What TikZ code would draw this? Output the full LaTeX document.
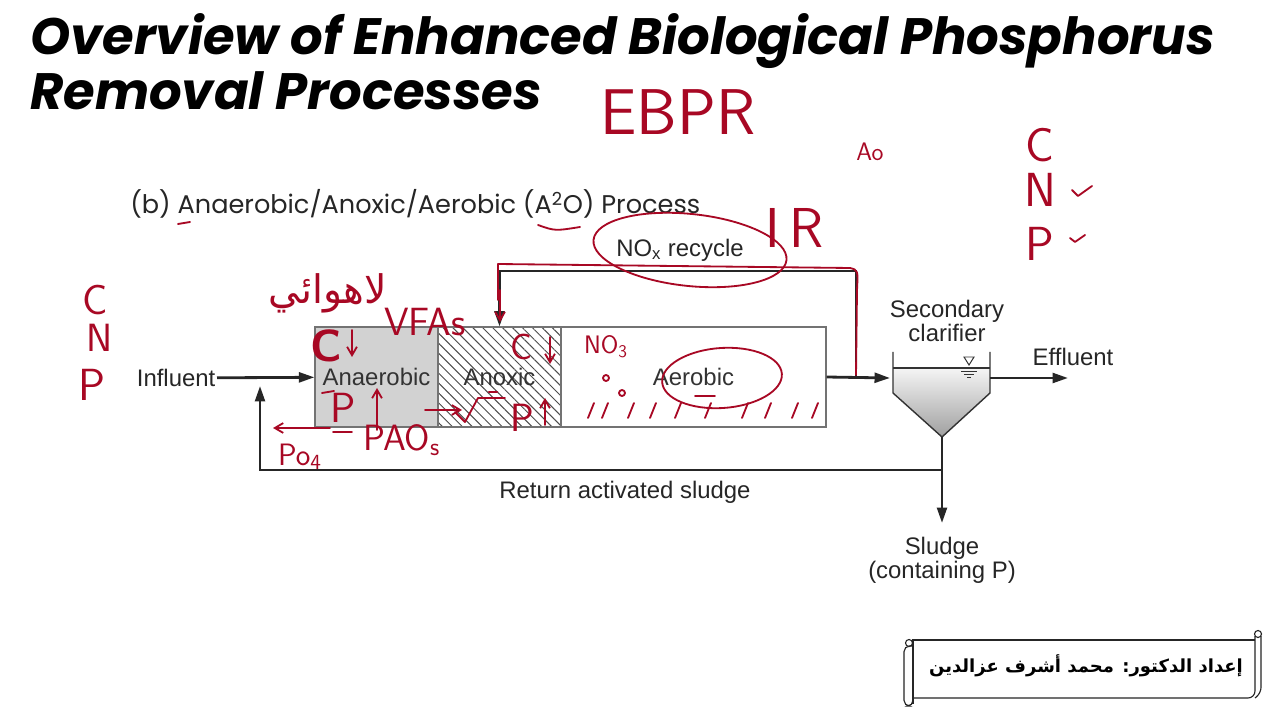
\documentclass[tikz,border=0pt]{standalone}
\usepackage{fontspec}
\setmainfont{Liberation Sans}
\newfontfamily\titlefont{Poppins}
\newfontfamily\arabicfont[Script=Arabic]{DejaVu Sans}
\TeXXeTstate=1
\usetikzlibrary{arrows.meta,patterns.meta}
\definecolor{ink}{RGB}{168,8,36}
\definecolor{tankline}{RGB}{115,115,115}
\begin{document}
\begin{tikzpicture}[x=0.025cm,y=-0.025cm,
  lbl/.style={font=\fontsize{17}{17}\selectfont,text=black!85,align=center,inner sep=1pt},
  tank/.style={draw=tankline,line width=0.8pt,minimum height=2.5cm,inner sep=0pt,font=\fontsize{17}{17}\selectfont,text=black!80},
  pipe/.style={line width=2pt,black!85},
  flow/.style={pipe,-{Triangle[length=11pt,width=7pt]}},
  ink/.style={draw=ink,line width=1.3pt,line cap=round,line join=round},
  barb/.style={ink,-{Straight Barb[length=6pt,width=7pt]}},
  hand/.style={text=ink,font=\sffamily\fontsize{#1}{#1}\selectfont,inner sep=0pt},
  scroll/.style={line width=0.8pt,black!85}]
\fill[white](0,0)rectangle(1280,720);
\useasboundingbox(0,0)rectangle(1280,720);
% titles
\node[anchor=base west,inner sep=0pt,font=\titlefont\bfseries\itshape\fontsize{36.4}{37}\selectfont](title1)at(30,55){Overview of Enhanced Biological Phosphorus};
\node[anchor=base west,inner sep=0pt,font=\titlefont\bfseries\itshape\fontsize{36.4}{37}\selectfont](title2)at(30,110){Removal Processes};
\node[anchor=base west,inner sep=0pt,font=\titlefont\fontsize{18.2}{19}\selectfont,text=black!85](sub)at(130,214){(b) Anaerobic/Anoxic/Aerobic (A\textsuperscript{2}O) Process};
% reactor
\node[tank,fill=gray!35,minimum width=3.075cm](ana)at(376.5,377){Anaerobic};
\node[tank,pattern={Lines[angle=-45,distance=5pt,line width=0.7pt]},pattern color=black!70,minimum width=3.075cm](anx)at(499.5,377){Anoxic};
\node[tank,minimum width=6.625cm](aer)at(693.5,377){Aerobic};
\node[lbl,anchor=east](infl)at(217,378){Influent};
\draw[flow](infl)--(ana);
\coordinate(clin)at(890,378);
\coordinate(rc)at(856,378);
\draw[flow](aer.east)--(clin);
\draw[flow](rc)--++(0,-107)-|(anx.north);
\node[lbl](nox)at(680,250){NO\textsubscript{x} recycle};
% clarifier
\shade[top color=gray!8,bottom color=gray!75](893,368)--(990,368)--(990,393)--(942,437)--(893,393)--cycle;
\draw[line width=1pt,black!80](893,352)--(893,393)--(942,437)--(990,393)--(990,352);
\draw[line width=0.8pt,black!80](893,368)--(990,368);
\draw[line width=0.7pt,black!80](964,357)--(974,357)--(969,365)--cycle;
\foreach \wy/\ww in {371/8,374/5,377/2}{\draw[line width=0.7pt,black!80](969-\ww,\wy)--(969+\ww,\wy);}
\node[lbl](sclab)at(947,321){Secondary\\clarifier};
\coordinate(clout)at(990,378);
\coordinate(effend)at(1068,378);
\draw[flow](clout)--(effend);
\node[lbl,anchor=west](eff)at(1031,357){Effluent};
\coordinate(apex)at(942,437);
\coordinate(sldend)at(942,523);
\draw[flow](apex)--(sldend);
\node[lbl](sludge)at(942,560){Sludge\\(containing P)};
\coordinate(ras)at(942,470);
\coordinate(mix)at(260,386);
\draw[flow](ras)-|(mix);
\node[lbl](raslab)at(625,492){Return activated sludge};
% scroll
\draw[scroll](913,704)--(913,640)--(1255,640);
\draw[scroll,rounded corners=5](1255,636)--(1255,698)--(913,698);
\draw[scroll,rounded corners=4](913,646)--(904,646)--(904,706)--(913,706)--(913,698);
\draw[scroll](909,643)circle(3.5);
\draw[scroll](1258,634)circle(3.5);
\draw[scroll,rounded corners=4](1261,636)--(1261,693)--(1255,698);
\node[font=\arabicfont\bfseries\fontsize{12.8}{13}\selectfont](author)at(1086,666){\beginR إعداد الدكتور: محمد أشرف عزالدين\endR};
% red notes
\node[hand=46](ebpr)at(678,112){EBPR};
\node[hand=18](ao)at(870,152){Ao};
\foreach \ly/\lt in {145/C,190/N,244/P}{\node[hand=34](rn\lt)at(1040,\ly){\lt};}
\draw[ink](1072,190)--(1078,196)--(1092,186);
\draw[ink](1070,238)--(1075,242)--(1085,235);
\node[hand=40](ir)at(795,228){I\,R};
\draw[ink,rotate around={-6:(690,250)}](690,250)ellipse[x radius=97,y radius=36];
\draw[ink](498,300)--(498,264)--(850,268)..controls(858,270)..(857,290)--(856,375);
\draw[barb](500,290)--(500,322);
\draw[ink](178,224)--(190,222);
\draw[ink](538,225)..controls(555,231)..(580,227);
\node[hand=30](cl)at(95,300){C};
\node[hand=28](nl)at(100,338){N};
\node[hand=32](pl)at(92,385){P};
\node[text=ink,font=\arabicfont\fontsize{28}{28}\selectfont](arab)at(328,293){\beginR لاهوائي\endR};
\node[hand=28](vfa)at(425,322){VFAs};
\node[hand=32](cana)at(326,346){\bfseries C};
\draw[barb](352,330)--(352,357);
\node[hand=30](pana)at(343,408){P};
\draw[ink](322,393)--(334,391);
\draw[ink](333,432)--(352,432);
\draw[barb](377,430)--(377,388);
\node[hand=26](pao)at(402,440){PAO\textsubscript{s}};
\draw[barb](330,428)--(273,428);
\node[hand=22](po)at(300,457){Po\textsubscript{4}};
\node[hand=26](canx)at(521,347){C};
\draw[barb](550,337)--(550,364);
\draw[barb](425,410)--(462,410);
\draw[ink](455,412)--(465,422)--(478,398)--(505,398);
\draw[ink,line width=2pt](489,392)--(497,392);
\node[hand=28](panx)at(522,418){P};
\draw[barb](545,425)--(545,398);
\node[hand=18](no3)at(606,347){NO\textsubscript{3}};
\draw[ink](606,378)circle(3);
\draw[ink](622,393)circle(3);
\draw[ink,rotate around={4:(722,378)}](722,378)ellipse[x radius=60,y radius=30];
\draw[ink](695,396)--(715,396);
\foreach \sx in {588,602,628,650,675,705,742,765,792,812}{\draw[ink](\sx,418)--(\sx+6,403);}
\end{tikzpicture}
\end{document}
